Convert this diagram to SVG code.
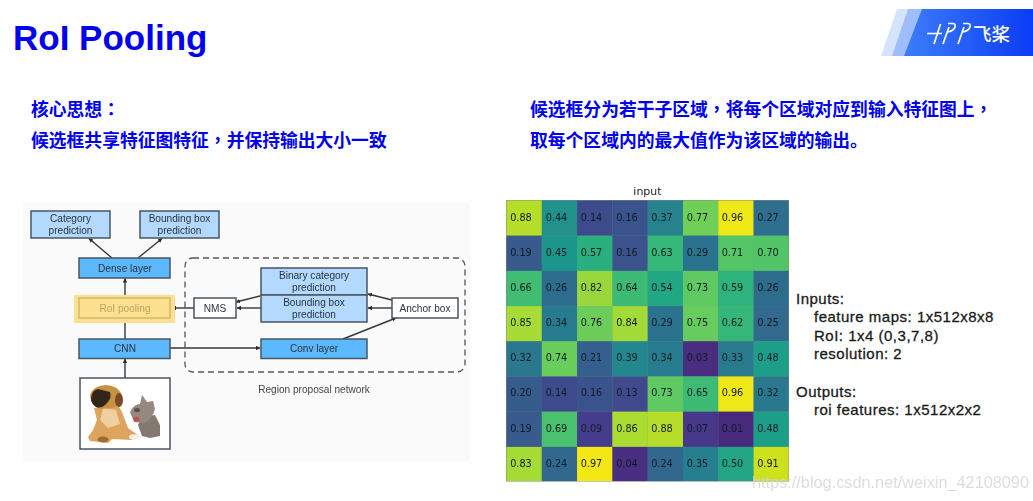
<svg xmlns="http://www.w3.org/2000/svg" width="1033" height="501" viewBox="0 0 1033 501">
<style>
.h{font-family:"Liberation Sans","Noto Sans CJK SC",sans-serif;font-weight:700;font-size:17.8px;fill:#0000ee}
.h tspan{font-family:"Noto Sans CJK TC",sans-serif}
.n{font-family:"Liberation Sans",Arial,sans-serif;font-size:10.1px;fill:#2a3440;text-anchor:middle}
.b{stroke:#4a5560;stroke-width:1.5}
.p{fill:#b3d9ff}.d{fill:#5cb8ff}.w{fill:#fff}
.c{stroke:#33383c;stroke-width:1.4;fill:none;marker-end:url(#a)}
.g text{font-family:"DejaVu Sans",sans-serif;font-size:9.7px;fill:#101c24;text-anchor:middle}
.t{font-family:"Liberation Sans",Arial,sans-serif;font-size:15px;letter-spacing:.5px;fill:#1a1a1a;stroke:#1a1a1a;stroke-width:.3px}
</style>
<defs>
<marker id="a" markerWidth="6" markerHeight="6" refX="4" refY="2.500" orient="auto" markerUnits="userSpaceOnUse"><path d="M0 .3L4.500 2.500L0 4.700z" fill="#2a2f33"/></marker>
<filter id="bl" x="-2%" y="-2%" width="104%" height="104%"><feGaussianBlur stdDeviation="0.55"/></filter>
<filter id="bs" x="-2%" y="-2%" width="104%" height="104%"><feGaussianBlur stdDeviation="0.35"/></filter>
<filter id="bi" x="-5%" y="-5%" width="110%" height="110%"><feGaussianBlur stdDeviation="0.6"/></filter>
<linearGradient id="lg" x1="0" x2="1" y1="0" y2="0"><stop offset="0" stop-color="#3d7dfa"/><stop offset="1" stop-color="#0a3cf5"/></linearGradient>
</defs>
<rect width="1033" height="501" fill="#fff"/>
<g id="logo">
<polygon points="881,56 897,9 1033,9 1033,56" fill="#d6e3fd"/>
<polygon points="892,56 908,9 1033,9 1033,56" fill="#9dbdfb"/>
<polygon points="904,56 922,9 1033,9 1033,56" fill="url(#lg)"/>
<path d="M927 33.500H942M940.500 24L934 44M948 23.500h4.500q3.500 0 2.500 3.500q-1 3.500-7 5M949 27L943 44M963 23.500h4.500q3.500 0 2.500 3.500q-1 3.500-7 5M964 27L958 44" stroke="#fff" stroke-width="1.700" fill="none"/>
<text x="973" y="41" font-family="'Noto Sans CJK SC',sans-serif" font-weight="500" font-size="18.500" fill="#fff">飞桨</text>
</g>
<text id="title" x="13" y="50" font-family="'Liberation Sans',Arial,sans-serif" font-weight="700" font-size="35" fill="#0000ee">RoI Pooling</text>
<g id="headings">
<text class="h" x="31" y="116">核心思想<tspan>：</tspan></text>
<text class="h" x="31" y="147">候选框共享特征图特征<tspan>，</tspan>并保持输出大小一致</text>
<text class="h" x="530" y="116">候选框分为若干子区域<tspan>，</tspan>将每个区域对应到输入特征图上<tspan>，</tspan></text>
<text class="h" x="530" y="147">取每个区域内的最大值作为该区域的输出。</text>
</g>
<g id="figure" filter="url(#bl)">
<rect x="23" y="202" width="447" height="260" fill="#fafafa"/>
<rect id="rpn" x="185" y="258" width="280" height="114" rx="8" fill="none" stroke="#555" stroke-width="1.300" stroke-dasharray="6 4"/>
<g id="connectors">
<path class="c" d="M112 258L89 238.500"/>
<path class="c" d="M138 258L162 238.500"/>
<path class="c" d="M125 298V278.500"/>
<path class="c" d="M125 339V318.500"/>
<path class="c" d="M125 378V359"/>
<path class="c" d="M194 308H172"/>
<path class="c" d="M170 348H260"/>
<path class="c" d="M260 296L236 302"/>
<path class="c" d="M261 308H237"/>
<path class="c" d="M392 300L368 294"/>
<path class="c" d="M392 308H368"/>
<path class="c" d="M343 339L396 318"/>
</g>
<g id="category"><rect class="b p" x="31" y="211" width="79" height="27"/><text class="n" x="70.500" y="222">Category</text><text class="n" x="70.500" y="234">prediction</text></g>
<g id="bbox"><rect class="b p" x="140" y="211" width="79" height="27"/><text class="n" x="179.500" y="222">Bounding box</text><text class="n" x="179.500" y="234">prediction</text></g>
<g id="dense"><rect class="b d" x="79" y="258" width="91" height="20"/><text class="n" x="125" y="271.500">Dense layer</text></g>
<g id="roi"><rect x="74" y="295" width="101" height="28" fill="#fce08e"/><rect x="79" y="298" width="91" height="20" fill="none" stroke="#c9b46a" stroke-width="1.300"/><text class="n" x="125" y="311.500" style="fill:#b9a566">RoI pooling</text></g>
<g id="cnn"><rect class="b d" x="79" y="339" width="91" height="19.500"/><text class="n" x="125" y="352">CNN</text></g>
<g id="image"><rect class="b w" x="80" y="378" width="90" height="71"/>
<g filter="url(#bi)">
<path d="M94 408L97 420L93 430L88 437L90 441L108 443L112 439L132 440L139 436L128 428L122 412L118 405z" fill="#dca45c"/>
<path d="M103 408L116 410L120 424L108 428L100 420z" fill="#f0cf9e"/>
<path d="M90 396Q92 386 106 385Q120 386 122 397Q122 406 112 408L100 409Q91 406 90 396z" fill="#c8913f"/>
<path d="M91 398Q92 390 98 389L110 392Q112 398 107 403Q102 409 96 407Q91 404 91 398z" fill="#33261f"/>
<ellipse cx="119" cy="400" rx="4" ry="7" fill="#7a4a28"/>
<ellipse cx="103" cy="439.500" rx="5.500" ry="3" fill="#9a6c32"/>
<ellipse cx="134" cy="437" rx="5" ry="2.800" fill="#f2efe8"/>
<path d="M138 425L142 417L155 415L160 425L160 436L150 438L142 436z" fill="#85786f"/>
<path d="M130 412Q134 404 140 404L142 395L147 402L153 401L155 409Q152 420 144 423L134 422z" fill="#948880"/>
<ellipse cx="136.500" cy="419" rx="3" ry="2.300" fill="#c0504d"/>
<ellipse cx="137" cy="410" rx="3" ry="2" fill="#5a5048"/>
</g>
</g>
<g id="binary"><rect class="b p" x="261" y="268" width="106" height="27"/><text class="n" x="314" y="279">Binary category</text><text class="n" x="314" y="291">prediction</text></g>
<g id="rpnbbox"><rect class="b p" x="261" y="295" width="106" height="27"/><text class="n" x="314" y="306">Bounding box</text><text class="n" x="314" y="318">prediction</text></g>
<g id="nms"><rect class="b w" x="194" y="298" width="42" height="20"/><text class="n" x="215" y="311.500">NMS</text></g>
<g id="anchor"><rect class="b w" x="392" y="298" width="66" height="20"/><text class="n" x="425" y="311.500">Anchor box</text></g>
<g id="conv"><rect class="b d" x="261" y="339" width="106" height="19.500"/><text class="n" x="314" y="352">Conv layer</text></g>
<text id="rpnlabel" class="n" x="314" y="393" style="fill:#444">Region proposal network</text>
</g>
<g id="heatmap" class="g" filter="url(#bs)">
<text x="647.500" y="195" style="font-size:11px;fill:#222">input</text>
<rect x="506" y="200" width="283" height="281.500" fill="#888"/>
<g id="r0">
<rect x="506.500" y="200.500" width="35.400" height="35.200" fill="#b5dd2b"/><rect x="541.800" y="200.500" width="35.400" height="35.200" fill="#20918c"/><rect x="577.100" y="200.500" width="35.400" height="35.200" fill="#3d4c8c"/><rect x="612.400" y="200.500" width="35.400" height="35.200" fill="#3b528c"/><rect x="647.700" y="200.500" width="35.400" height="35.200" fill="#25838e"/><rect x="683" y="200.500" width="35.400" height="35.200" fill="#70cf57"/><rect x="718.300" y="200.500" width="35.400" height="35.200" fill="#eee816"/><rect x="753.600" y="200.500" width="35" height="35.200" fill="#2e6e8e"/>
<text x="521" y="220.500">0.88</text><text x="556.500" y="220.500">0.44</text><text x="591.500" y="220.500">0.14</text><text x="627" y="220.500">0.16</text><text x="662" y="220.500">0.37</text><text x="697.500" y="220.500">0.77</text><text x="732.500" y="220.500">0.96</text><text x="768" y="220.500">0.27</text>
</g>
<g id="r1">
<rect x="506.500" y="235.700" width="35.400" height="35.200" fill="#375a8c"/><rect x="541.800" y="235.700" width="35.400" height="35.200" fill="#1f968b"/><rect x="577.100" y="235.700" width="35.400" height="35.200" fill="#2aaf7f"/><rect x="612.400" y="235.700" width="35.400" height="35.200" fill="#3b528c"/><rect x="647.700" y="235.700" width="35.400" height="35.200" fill="#36b878"/><rect x="683" y="235.700" width="35.400" height="35.200" fill="#2c728e"/><rect x="718.300" y="235.700" width="35.400" height="35.200" fill="#55c667"/><rect x="753.600" y="235.700" width="35" height="35.200" fill="#52c569"/>
<text x="521" y="255.500">0.19</text><text x="556.500" y="255.500">0.45</text><text x="591.500" y="255.500">0.57</text><text x="627" y="255.500">0.16</text><text x="662" y="255.500">0.63</text><text x="697.500" y="255.500">0.29</text><text x="732.500" y="255.500">0.71</text><text x="768" y="255.500">0.70</text>
</g>
<g id="r2">
<rect x="506.500" y="270.900" width="35.400" height="35.200" fill="#41bd72"/><rect x="541.800" y="270.900" width="35.400" height="35.200" fill="#2f6c8e"/><rect x="577.100" y="270.900" width="35.400" height="35.200" fill="#98d83e"/><rect x="612.400" y="270.900" width="35.400" height="35.200" fill="#3cbb75"/><rect x="647.700" y="270.900" width="35.400" height="35.200" fill="#22a785"/><rect x="683" y="270.900" width="35.400" height="35.200" fill="#5ec962"/><rect x="718.300" y="270.900" width="35.400" height="35.200" fill="#2eb37c"/><rect x="753.600" y="270.900" width="35" height="35.200" fill="#2f6c8e"/>
<text x="521" y="290.700">0.66</text><text x="556.500" y="290.700">0.26</text><text x="591.500" y="290.700">0.82</text><text x="627" y="290.700">0.64</text><text x="662" y="290.700">0.54</text><text x="697.500" y="290.700">0.73</text><text x="732.500" y="290.700">0.59</text><text x="768" y="290.700">0.26</text>
</g>
<g id="r3">
<rect x="506.500" y="306.100" width="35.400" height="35.200" fill="#a8db34"/><rect x="541.800" y="306.100" width="35.400" height="35.200" fill="#287c8e"/><rect x="577.100" y="306.100" width="35.400" height="35.200" fill="#6ccd5a"/><rect x="612.400" y="306.100" width="35.400" height="35.200" fill="#a2da37"/><rect x="647.700" y="306.100" width="35.400" height="35.200" fill="#2c728e"/><rect x="683" y="306.100" width="35.400" height="35.200" fill="#66cc5d"/><rect x="718.300" y="306.100" width="35.400" height="35.200" fill="#35b779"/><rect x="753.600" y="306.100" width="35" height="35.200" fill="#306a8e"/>
<text x="521" y="325.900">0.85</text><text x="556.500" y="325.900">0.34</text><text x="591.500" y="325.900">0.76</text><text x="627" y="325.900">0.84</text><text x="662" y="325.900">0.29</text><text x="697.500" y="325.900">0.75</text><text x="732.500" y="325.900">0.62</text><text x="768" y="325.900">0.25</text>
</g>
<g id="r4">
<rect x="506.500" y="341.300" width="35.400" height="35.200" fill="#2a788e"/><rect x="541.800" y="341.300" width="35.400" height="35.200" fill="#69cd5b"/><rect x="577.100" y="341.300" width="35.400" height="35.200" fill="#355f8d"/><rect x="612.400" y="341.300" width="35.400" height="35.200" fill="#23888e"/><rect x="647.700" y="341.300" width="35.400" height="35.200" fill="#287c8e"/><rect x="683" y="341.300" width="35.400" height="35.200" fill="#482d80"/><rect x="718.300" y="341.300" width="35.400" height="35.200" fill="#297a8e"/><rect x="753.600" y="341.300" width="35" height="35.200" fill="#1f9e89"/>
<text x="521" y="361">0.32</text><text x="556.500" y="361">0.74</text><text x="591.500" y="361">0.21</text><text x="627" y="361">0.39</text><text x="662" y="361">0.34</text><text x="697.500" y="361">0.03</text><text x="732.500" y="361">0.33</text><text x="768" y="361">0.48</text>
</g>
<g id="r5">
<rect x="506.500" y="376.500" width="35.400" height="35.200" fill="#365c8c"/><rect x="541.800" y="376.500" width="35.400" height="35.200" fill="#3d4c8c"/><rect x="577.100" y="376.500" width="35.400" height="35.200" fill="#3b528c"/><rect x="612.400" y="376.500" width="35.400" height="35.200" fill="#3f4a8c"/><rect x="647.700" y="376.500" width="35.400" height="35.200" fill="#5ec962"/><rect x="683" y="376.500" width="35.400" height="35.200" fill="#3cbb75"/><rect x="718.300" y="376.500" width="35.400" height="35.200" fill="#eee816"/><rect x="753.600" y="376.500" width="35" height="35.200" fill="#2a788e"/>
<text x="521" y="396.200">0.20</text><text x="556.500" y="396.200">0.14</text><text x="591.500" y="396.200">0.16</text><text x="627" y="396.200">0.13</text><text x="662" y="396.200">0.73</text><text x="697.500" y="396.200">0.65</text><text x="732.500" y="396.200">0.96</text><text x="768" y="396.200">0.32</text>
</g>
<g id="r6">
<rect x="506.500" y="411.700" width="35.400" height="35.200" fill="#375a8c"/><rect x="541.800" y="411.700" width="35.400" height="35.200" fill="#48c16e"/><rect x="577.100" y="411.700" width="35.400" height="35.200" fill="#443d8c"/><rect x="612.400" y="411.700" width="35.400" height="35.200" fill="#aadc32"/><rect x="647.700" y="411.700" width="35.400" height="35.200" fill="#b5dd2b"/><rect x="683" y="411.700" width="35.400" height="35.200" fill="#47388a"/><rect x="718.300" y="411.700" width="35.400" height="35.200" fill="#462a7c"/><rect x="753.600" y="411.700" width="35" height="35.200" fill="#1f9e89"/>
<text x="521" y="431.500">0.19</text><text x="556.500" y="431.500">0.69</text><text x="591.500" y="431.500">0.09</text><text x="627" y="431.500">0.86</text><text x="662" y="431.500">0.88</text><text x="697.500" y="431.500">0.07</text><text x="732.500" y="431.500">0.01</text><text x="768" y="431.500">0.48</text>
</g>
<g id="r7">
<rect x="506.500" y="446.900" width="35.400" height="34.200" fill="#a5db36"/><rect x="541.800" y="446.900" width="35.400" height="34.200" fill="#31688e"/><rect x="577.100" y="446.900" width="35.400" height="34.200" fill="#f3e819"/><rect x="612.400" y="446.900" width="35.400" height="34.200" fill="#482f82"/><rect x="647.700" y="446.900" width="35.400" height="34.200" fill="#31688e"/><rect x="683" y="446.900" width="35.400" height="34.200" fill="#277f8e"/><rect x="718.300" y="446.900" width="35.400" height="34.200" fill="#21a585"/><rect x="753.600" y="446.900" width="35" height="34.200" fill="#cde11d"/>
<text x="521" y="466.500">0.83</text><text x="556.500" y="466.500">0.24</text><text x="591.500" y="466.500">0.97</text><text x="627" y="466.500">0.04</text><text x="662" y="466.500">0.24</text><text x="697.500" y="466.500">0.35</text><text x="732.500" y="466.500">0.50</text><text x="768" y="466.500">0.91</text>
</g>
</g>
<g id="params">
<text class="t" x="796" y="304">Inputs:</text>
<text class="t" x="814" y="322">feature maps: 1x512x8x8</text>
<text class="t" x="814" y="341">RoI: 1x4 (0,3,7,8)</text>
<text class="t" x="814" y="359">resolution: 2</text>
<text class="t" x="796" y="397">Outputs:</text>
<text class="t" x="814" y="415">roi features: 1x512x2x2</text>
</g>
<text id="watermark" x="752" y="488" font-family="'Liberation Sans',Arial,sans-serif" font-size="16.300" fill="#d4d4d4" fill-opacity=".8" filter="url(#bs)">https://blog.csdn.net/weixin_42108090</text>
</svg>
